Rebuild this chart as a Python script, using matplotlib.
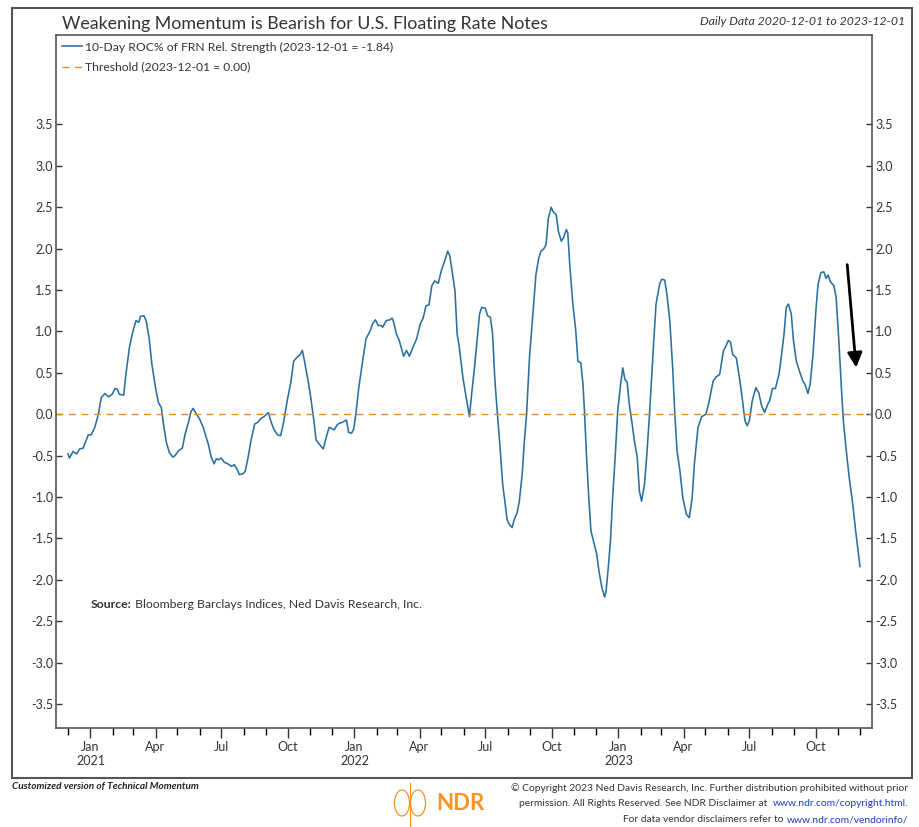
import numpy as np
import pandas as pd
import matplotlib
matplotlib.use('Agg')
import matplotlib.pyplot as plt
import matplotlib.dates as mdates
from matplotlib.ticker import FormatStrFormatter, FuncFormatter
from matplotlib.patches import Rectangle, Ellipse
from matplotlib.lines import Line2D

plt.rcParams['font.family'] = ['Lato', 'DejaVu Sans']
plt.rcParams['axes.unicode_minus'] = False

# 10-day ROC% of FRN relative strength
dates = [
    '2020-12-01', '2020-12-03', '2020-12-08', '2020-12-13', '2020-12-17', '2020-12-22', '2020-12-29',
    '2021-01-02', '2021-01-07', '2021-01-12', '2021-01-16', '2021-01-21', '2021-01-26', '2021-01-31',
    '2021-02-04', '2021-02-07', '2021-02-10', '2021-02-16', '2021-02-19', '2021-02-24',
    '2021-03-01', '2021-03-05', '2021-03-09', '2021-03-11', '2021-03-16', '2021-03-19', '2021-03-23', '2021-03-27',
    '2021-04-01', '2021-04-05', '2021-04-09', '2021-04-12', '2021-04-16', '2021-04-20', '2021-04-25', '2021-04-28',
    '2021-05-03', '2021-05-08', '2021-05-12', '2021-05-17', '2021-05-20', '2021-05-23', '2021-05-27',
    '2021-06-01', '2021-06-06', '2021-06-10', '2021-06-13', '2021-06-17', '2021-06-21', '2021-06-24', '2021-06-27',
    '2021-07-01', '2021-07-05', '2021-07-10', '2021-07-15', '2021-07-19', '2021-07-23', '2021-07-26', '2021-07-31',
    '2021-08-03', '2021-08-07', '2021-08-11', '2021-08-16', '2021-08-20', '2021-08-25', '2021-08-29',
    '2021-09-04', '2021-09-08', '2021-09-12', '2021-09-17', '2021-09-21', '2021-09-25', '2021-09-30',
    '2021-10-05', '2021-10-09', '2021-10-14', '2021-10-18', '2021-10-21', '2021-10-24', '2021-10-29',
    '2021-11-02', '2021-11-06', '2021-11-09', '2021-11-14', '2021-11-19', '2021-11-23', '2021-11-27', '2021-11-30',
    '2021-12-04', '2021-12-08', '2021-12-11', '2021-12-15', '2021-12-21', '2021-12-24', '2021-12-28', '2021-12-31',
    '2022-01-03', '2022-01-07', '2022-01-12', '2022-01-17', '2022-01-23', '2022-01-26', '2022-01-30',
    '2022-02-03', '2022-02-07', '2022-02-09', '2022-02-14', '2022-02-19', '2022-02-22', '2022-02-24', '2022-02-28',
    '2022-03-04', '2022-03-10', '2022-03-14', '2022-03-18', '2022-03-23', '2022-03-28',
    '2022-04-02', '2022-04-06', '2022-04-10', '2022-04-14', '2022-04-18', '2022-04-22', '2022-04-27',
    '2022-05-01', '2022-05-05', '2022-05-10', '2022-05-13', '2022-05-20', '2022-05-23', '2022-05-26', '2022-05-31',
    '2022-06-05', '2022-06-09', '2022-06-12', '2022-06-16', '2022-06-20', '2022-06-23', '2022-06-26',
    '2022-07-01', '2022-07-04', '2022-07-08', '2022-07-11', '2022-07-14', '2022-07-17', '2022-07-21', '2022-07-25',
    '2022-07-28', '2022-07-31', '2022-08-03', '2022-08-07', '2022-08-10', '2022-08-14', '2022-08-17', '2022-08-21',
    '2022-08-24', '2022-08-27', '2022-08-31', '2022-09-05', '2022-09-09', '2022-09-13', '2022-09-16', '2022-09-20',
    '2022-09-23', '2022-09-26', '2022-09-30', '2022-10-03', '2022-10-07', '2022-10-10', '2022-10-14', '2022-10-17',
    '2022-10-21', '2022-10-23', '2022-10-26', '2022-10-30', '2022-11-03', '2022-11-06', '2022-11-10', '2022-11-13',
    '2022-11-15', '2022-11-18', '2022-11-21', '2022-11-24', '2022-11-28', '2022-12-02', '2022-12-05', '2022-12-09',
    '2022-12-13', '2022-12-15', '2022-12-18', '2022-12-21', '2022-12-24', '2022-12-28', '2022-12-31',
    '2023-01-04', '2023-01-07', '2023-01-10', '2023-01-13', '2023-01-16', '2023-01-20', '2023-01-23', '2023-01-27',
    '2023-01-30', '2023-02-02', '2023-02-06', '2023-02-09', '2023-02-13', '2023-02-18', '2023-02-22', '2023-02-27',
    '2023-03-02', '2023-03-06', '2023-03-09', '2023-03-13', '2023-03-17', '2023-03-20', '2023-03-23', '2023-03-27',
    '2023-03-31', '2023-04-05', '2023-04-09', '2023-04-13', '2023-04-16', '2023-04-21', '2023-04-26',
    '2023-05-02', '2023-05-06', '2023-05-12', '2023-05-16', '2023-05-21', '2023-05-26', '2023-05-30',
    '2023-06-02', '2023-06-05', '2023-06-08', '2023-06-13', '2023-06-18', '2023-06-21', '2023-06-25', '2023-06-28',
    '2023-07-01', '2023-07-05', '2023-07-10', '2023-07-14', '2023-07-18', '2023-07-22', '2023-07-26', '2023-07-29',
    '2023-08-02', '2023-08-06', '2023-08-11', '2023-08-14', '2023-08-18', '2023-08-21', '2023-08-24', '2023-08-28',
    '2023-08-31', '2023-09-04', '2023-09-09', '2023-09-13', '2023-09-16', '2023-09-20', '2023-09-23', '2023-09-27',
    '2023-10-01', '2023-10-04', '2023-10-08', '2023-10-12', '2023-10-15', '2023-10-18', '2023-10-21', '2023-10-26',
    '2023-10-29', '2023-11-02', '2023-11-05', '2023-11-08', '2023-11-12', '2023-11-16', '2023-11-21', '2023-11-25',
    '2023-12-01',
]
roc = [
    -0.48, -0.53, -0.45, -0.48, -0.42, -0.41, -0.25,
    -0.25, -0.16, 0.00, 0.20, 0.25, 0.21, 0.24,
    0.31, 0.30, 0.24, 0.23, 0.48, 0.81,
    1.01, 1.13, 1.11, 1.18, 1.19, 1.13, 0.93, 0.60,
    0.32, 0.14, 0.08, -0.12, -0.34, -0.46, -0.52, -0.50,
    -0.44, -0.41, -0.24, -0.08, 0.03, 0.07, 0.01,
    -0.06, -0.16, -0.28, -0.36, -0.52, -0.60, -0.54, -0.55,
    -0.53, -0.58, -0.60, -0.63, -0.61, -0.67, -0.73, -0.72,
    -0.69, -0.52, -0.32, -0.12, -0.10, -0.05, -0.03,
    0.02, -0.10, -0.19, -0.25, -0.26, -0.10, 0.16,
    0.38, 0.64, 0.69, 0.72, 0.77, 0.64, 0.40,
    0.18, -0.08, -0.31, -0.37, -0.42, -0.28, -0.16, -0.17,
    -0.19, -0.13, -0.11, -0.10, -0.07, -0.22, -0.23, -0.18,
    0.00, 0.32, 0.62, 0.91, 1.01, 1.09, 1.14,
    1.07, 1.07, 1.05, 1.13, 1.14, 1.16, 1.12, 0.97,
    0.89, 0.70, 0.77, 0.70, 0.81, 0.91,
    1.09, 1.16, 1.31, 1.32, 1.55, 1.61, 1.58,
    1.73, 1.83, 1.97, 1.91, 1.49, 0.97, 0.81, 0.44,
    0.18, -0.03, 0.24, 0.56, 0.93, 1.21, 1.29,
    1.28, 1.19, 1.17, 0.97, 0.44, 0.08, -0.36, -0.85,
    -1.05, -1.27, -1.33, -1.37, -1.27, -1.19, -1.05, -0.72,
    -0.32, 0.00, 0.68, 1.25, 1.69, 1.89, 1.97, 2.00,
    2.05, 2.36, 2.50, 2.44, 2.41, 2.21, 2.09, 2.13,
    2.23, 2.19, 1.77, 1.33, 1.01, 0.64, 0.62, 0.36,
    0.04, -0.52, -1.01, -1.41, -1.55, -1.69, -1.89, -2.09,
    -2.21, -2.13, -1.85, -1.53, -1.01, -0.44, 0.04,
    0.36, 0.56, 0.42, 0.39, 0.12, -0.12, -0.32, -0.52,
    -0.93, -1.05, -0.85, -0.52, 0.00, 0.76, 1.33, 1.57,
    1.63, 1.62, 1.45, 1.13, 0.56, 0.00, -0.44, -0.68,
    -1.01, -1.21, -1.25, -1.01, -0.60, -0.16, -0.03,
    0.00, 0.14, 0.40, 0.45, 0.48, 0.76, 0.83,
    0.89, 0.87, 0.72, 0.68, 0.40, 0.20, -0.08, -0.14,
    -0.08, 0.16, 0.32, 0.26, 0.10, 0.02, 0.11, 0.16,
    0.31, 0.31, 0.48, 0.68, 0.97, 1.29, 1.33, 1.21,
    0.89, 0.64, 0.50, 0.40, 0.36, 0.25, 0.36, 0.72,
    1.25, 1.57, 1.71, 1.72, 1.64, 1.68, 1.60, 1.55,
    1.41, 0.85, 0.36, -0.08, -0.44, -0.76, -1.09, -1.41,
    -1.84,
]
threshold = 0.0
y_ticks = np.arange(-3.5, 3.51, 0.5)

arrow_from = ('2023-11-13', 1.84)
arrow_to = ('2023-11-26', 0.53)

title = 'Weakening Momentum is Bearish for U.S. Floating Rate Notes'
subtitle = 'Daily Data 2020-12-01 to 2023-12-01'
roc_label = '10-Day ROC% of FRN Rel. Strength (2023-12-01 = -1.84)'
thr_label = 'Threshold (2023-12-01 = 0.00)'

W, H = 919, 827
def fx(px):
    return px / W
def fy(py):
    return 1 - py / H

fig = plt.figure(figsize=(W / 100, H / 100), dpi=100)
ax = fig.add_axes([fx(55.7), fy(727.7), fx(872.3) - fx(55.7), fy(35) - fy(727.7)])

x = pd.to_datetime(dates)
line_col = '#2b6f9e'
thr_col = '#f08a24'
ax.plot(x, roc, color=line_col, lw=1.15, label=roc_label)
ax.axhline(threshold, color=thr_col, lw=1.0, dashes=(5, 4), label=thr_label)

ax.set_xlim(pd.Timestamp('2020-11-14'), pd.Timestamp('2023-12-18'))
ax.set_ylim(-3.787, 4.58)

# x axis: quarterly labels, monthly minor ticks
ax.xaxis.set_major_locator(mdates.MonthLocator(bymonth=[1, 4, 7, 10]))
ax.xaxis.set_minor_locator(mdates.MonthLocator())
def month_fmt(v, pos):
    d = mdates.num2date(v)
    s = d.strftime('%b')
    if d.month == 1:
        s += '\n' + str(d.year)
    return s
ax.xaxis.set_major_formatter(FuncFormatter(month_fmt))
ax.tick_params(axis='x', which='major', direction='out', length=7.5, width=1, pad=2,
               labelsize=9, colors='#333333')
ax.tick_params(axis='x', which='minor', direction='out', length=5, width=1)

ax.set_yticks(y_ticks)
ax.yaxis.set_major_formatter(FormatStrFormatter('%.1f'))
ax.tick_params(axis='y', direction='in', length=4, width=1, pad=2,
               left=True, right=True, labelleft=True, labelright=True,
               labelsize=9, colors='#333333')
for s in ax.spines.values():
    s.set_color('#555555')
    s.set_linewidth(1.2)

leg = ax.legend(loc='upper left', bbox_to_anchor=(0, 1), frameon=False, fontsize=8.7,
                handlelength=1.6, handletextpad=0.3, labelspacing=0.75,
                borderpad=0.45, borderaxespad=0.1)
for t in leg.get_texts():
    t.set_color('#333333')

ax.annotate('', xy=(pd.Timestamp(arrow_to[0]), arrow_to[1]),
            xytext=(pd.Timestamp(arrow_from[0]), arrow_from[1]),
            arrowprops=dict(arrowstyle='-|>', color='black', lw=2, mutation_scale=22))

# source note inside the plot
src = ax.text(pd.Timestamp('2021-01-02'), -2.3, 'Source:', fontsize=8.8, fontweight='bold',
              color='#333333', va='center')
ax.annotate(' Bloomberg Barclays Indices, Ned Davis Research, Inc.', xy=(1, 0), xycoords=src,
            fontsize=8.8, color='#333333', va='bottom')

# header
fig.text(fx(62), fy(29), title, fontsize=12.8, color='#333333', va='baseline')
fig.text(fx(905), fy(25), subtitle, fontsize=8.8, style='italic', color='#333333',
         ha='right', va='baseline')

# outer frame
fig.add_artist(Rectangle((fx(11.7), fy(778)), fx(911.7) - fx(11.7), fy(8) - fy(778),
                         transform=fig.transFigure, fill=False, ec='#555555', lw=1.5))

# footer
fs = 7.4
fig.text(fx(12), fy(787), 'Customized version of Technical Momentum', fontsize=7.2,
         fontweight='bold', style='italic', color='#222222', va='center')
fig.text(fx(908), fy(788), '\u00a9 Copyright 2023 Ned Davis Research, Inc. Further distribution prohibited without prior',
         fontsize=fs, color='#333333', ha='right', va='center')
u1 = fig.text(fx(908), fy(803), 'www.ndr.com/copyright.html.', fontsize=fs, color='#1a3fbf',
              ha='right', va='center')
u2 = fig.text(fx(908), fy(820), 'www.ndr.com/vendorinfo/', fontsize=fs, color='#1a3fbf',
              ha='right', va='center')

fig.canvas.draw()
# place the leading plain text right before each link
for link, txt in [(u1, 'permission. All Rights Reserved. See NDR Disclaimer at  '),
                  (u2, 'For data vendor disclaimers refer to ')]:
    bb = link.get_window_extent()
    fig.text(bb.x0 / W, (bb.y0 + bb.y1) / 2 / H, txt, fontsize=fs, color='#333333',
             ha='right', va='center')

# NDR logo
orange = '#f7941d'
fig.text(fx(436), fy(804), 'NDR', fontsize=16, fontweight='bold', color=orange, va='center')
fig.add_artist(Line2D([fx(410), fx(410)], [fy(783), fy(826)], color=orange, lw=0.8,
                      transform=fig.transFigure))
fig.add_artist(Ellipse((fx(402), fy(803)), fx(15) - fx(0), fy(0) - fy(26), fill=False,
                       ec=orange, lw=0.9, transform=fig.transFigure))
fig.add_artist(Ellipse((fx(418), fy(803)), fx(15) - fx(0), fy(0) - fy(26), fill=False,
                       ec=orange, lw=0.9, transform=fig.transFigure))

fig.savefig('out.png', dpi=100)
